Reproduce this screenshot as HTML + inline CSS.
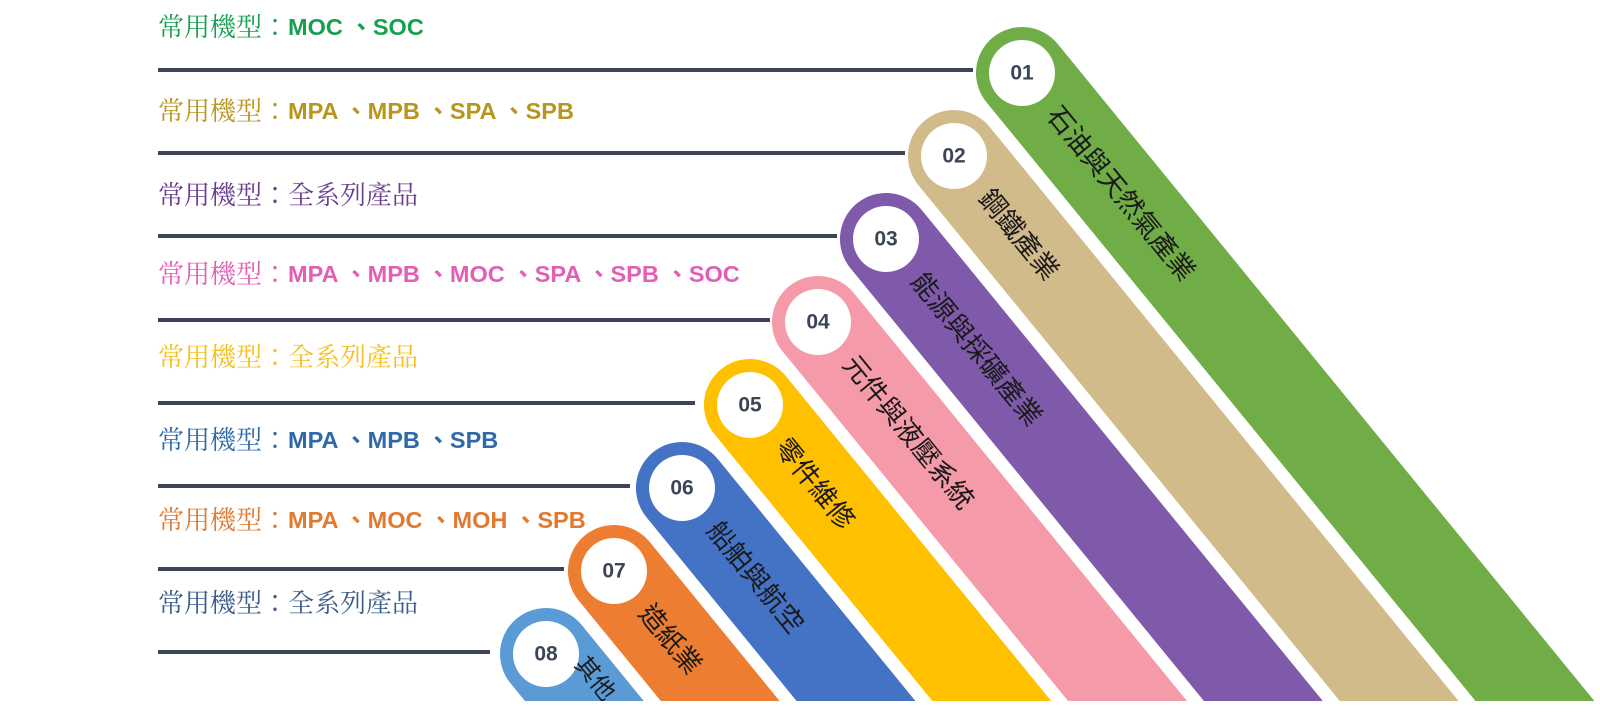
<!DOCTYPE html>
<html><head><meta charset="utf-8"><style>
html,body{margin:0;padding:0;background:#fff;width:1600px;height:725px;overflow:hidden}
svg{display:block}
.l{font-family:"Liberation Serif","Noto Serif CJK TC","Noto Serif CJK SC",serif;font-size:26px}
.m{font-family:"Liberation Sans","Noto Sans CJK TC",sans-serif;font-size:23.5px;font-weight:bold}
.n{font-family:"Liberation Sans",sans-serif;font-size:21px;font-weight:bold;fill:#3b4557}
.b{font-family:"Liberation Sans","Noto Sans CJK TC",sans-serif;font-size:27px;fill:#1a1a1a}
</style></head><body>
<svg width="1600" height="725" viewBox="0 0 1600 725">
<defs><clipPath id="c"><rect x="0" y="0" width="1600" height="701"/></clipPath></defs>
<g stroke="#3b4557" stroke-width="4">
<line x1="158" y1="70" x2="973" y2="70"/>
<line x1="158" y1="153" x2="905" y2="153"/>
<line x1="158" y1="236" x2="837" y2="236"/>
<line x1="158" y1="320" x2="770" y2="320"/>
<line x1="158" y1="403" x2="695" y2="403"/>
<line x1="158" y1="486" x2="630" y2="486"/>
<line x1="158" y1="569" x2="564" y2="569"/>
<line x1="158" y1="652" x2="490" y2="652"/>
</g>
<g dominant-baseline="central">
<text x="158" y="27"><tspan class="l" fill="#17a050">常用機型：</tspan><tspan class="m" fill="#17a050">MOC 、SOC</tspan></text>
<text x="158" y="111"><tspan class="l" fill="#b8961e">常用機型：</tspan><tspan class="m" fill="#b8961e">MPA 、MPB  、SPA 、SPB</tspan></text>
<text x="158" y="195"><tspan class="l" fill="#6a3d8f">常用機型：全系列產品</tspan></text>
<text x="158" y="274"><tspan class="l" fill="#e35fb5">常用機型：</tspan><tspan class="m" fill="#e35fb5">MPA 、MPB 、MOC 、SPA 、SPB 、SOC</tspan></text>
<text x="158" y="357"><tspan class="l" fill="#f5c020">常用機型：全系列產品</tspan></text>
<text x="158" y="440"><tspan class="l" fill="#2f6aa8">常用機型：</tspan><tspan class="m" fill="#2f6aa8">MPA 、MPB 、SPB</tspan></text>
<text x="158" y="520"><tspan class="l" fill="#e07a30">常用機型：</tspan><tspan class="m" fill="#e07a30">MPA 、MOC 、MOH 、SPB</tspan></text>
<text x="158" y="603"><tspan class="l" fill="#3b5d8a">常用機型：全系列產品</tspan></text>
</g>
<g>
<path fill="#70ad47" d="M986.35 102.1 A46 46 0 0 1 1057.65 43.9 L1594.4 701 L1475.5 701 Z"/>
<path fill="#d2bb8a" d="M918.35 185.1 A46 46 0 0 1 989.65 126.9 L1458.6 701 L1339.8 701 Z"/>
<path fill="#7f5aab" d="M850.35 268.1 A46 46 0 0 1 921.65 209.9 L1322.8 701 L1203.9 701 Z"/>
<path fill="#f59aa9" d="M782.35 351.1 A46 46 0 0 1 853.65 292.9 L1187.0 701 L1068.1 701 Z"/>
<path fill="#ffc000" d="M714.35 434.1 A46 46 0 0 1 785.65 375.9 L1051.2 701 L932.4 701 Z"/>
<path fill="#4472c4" d="M646.35 517.1 A46 46 0 0 1 717.65 458.9 L915.4 701 L796.6 701 Z"/>
<path fill="#ed7d31" d="M578.35 600.1 A46 46 0 0 1 649.65 541.9 L779.6 701 L660.8 701 Z"/>
<path fill="#5b9bd5" d="M510.35 683.1 A46 46 0 0 1 581.65 624.9 L643.8 701 L525.0 701 Z"/>
</g>
<g fill="#fff">
<circle cx="1022" cy="73" r="33"/><circle cx="954" cy="156" r="33"/><circle cx="886" cy="239" r="33"/><circle cx="818" cy="322" r="33"/>
<circle cx="750" cy="405" r="33"/><circle cx="682" cy="488" r="33"/><circle cx="614" cy="571" r="33"/><circle cx="546" cy="654" r="33"/>
</g>
<g text-anchor="middle" dominant-baseline="central" class="n">
<text x="1022" y="73" class="n">01</text><text x="954" y="156" class="n">02</text><text x="886" y="239" class="n">03</text><text x="818" y="322" class="n">04</text>
<text x="750" y="405" class="n">05</text><text x="682" y="488" class="n">06</text><text x="614" y="571" class="n">07</text><text x="546" y="654" class="n">08</text>
</g>
<g dominant-baseline="central" clip-path="url(#c)">
<text class="b" transform="translate(1022,73) rotate(50.7)" x="48" y="0">石油與天然氣產業</text>
<text class="b" transform="translate(954,156) rotate(50.7)" x="48" y="0">鋼鐵產業</text>
<text class="b" transform="translate(886,239) rotate(50.7)" x="48" y="0">能源與採礦產業</text>
<text class="b" transform="translate(818,322) rotate(50.7)" x="48" y="0">元件與液壓系統</text>
<text class="b" transform="translate(750,405) rotate(50.7)" x="48" y="0">零件維修</text>
<text class="b" transform="translate(682,488) rotate(50.7)" x="48" y="0">船舶與航空</text>
<text class="b" transform="translate(614,571) rotate(50.7)" x="48" y="0">造紙業</text>
<text class="b" transform="translate(546,654) rotate(50.7)" x="26" y="-22" style="font-size:24px">其他</text>
</g>
</svg>
</body></html>
